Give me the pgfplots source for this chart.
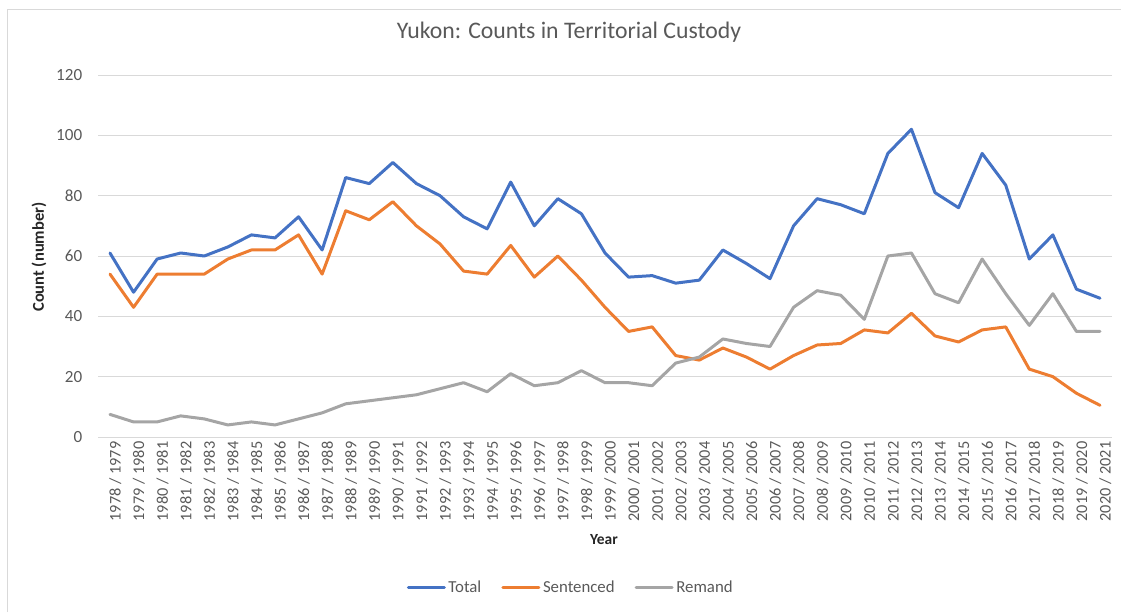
\documentclass[border=0pt]{standalone}
\usepackage{pgfplots}
\pgfplotsset{compat=1.18}
\usepackage{pgfplotstable}
\usepackage{fontspec}
\setmainfont{Carlito}
\definecolor{cTotal}{HTML}{4472C4}
\definecolor{cSent}{HTML}{ED7D31}
\definecolor{cRem}{HTML}{A5A5A5}
\definecolor{cGrid}{HTML}{D9D9D9}
\definecolor{cText}{HTML}{595959}
\definecolor{cFrame}{HTML}{D9D9D9}

\pgfplotstableread{
idx total sent remand
0 61 54 7.5
1 48 43 5
2 59 54 5
3 61 54 7
4 60 54 6
5 63 59 4
6 67 62 5
7 66 62 4
8 73 67 6
9 62 54 8
10 86 75 11
11 84 72 12
12 91 78 13
13 84 70 14
14 80 64 16
15 73 55 18
16 69 54 15
17 84.5 63.5 21
18 70 53 17
19 79 60 18
20 74 52 22
21 61 43 18
22 53 35 18
23 53.5 36.5 17
24 51 27 24.5
25 52 25.5 26.5
26 62 29.5 32.5
27 57.5 26.5 31
28 52.5 22.5 30
29 70 27 43
30 79 30.5 48.5
31 77 31 47
32 74 35.5 39
33 94 34.5 60
34 102 41 61
35 81 33.5 47.5
36 76 31.5 44.5
37 94 35.5 59
38 83.5 36.5 47.5
39 59 22.5 37
40 67 20 47.5
41 49 14.5 35
42 46 10.5 35
}\datatable

\begin{document}
\begin{tikzpicture}
\useasboundingbox (0,0) rectangle (840.75pt,459pt);
\draw[cFrame, line width=0.75pt] (5.25pt,0pt) -- (5.25pt,451.5pt) -- (840.75pt,451.5pt);
\begin{axis}[
  at={(73.65pt,131.25pt)}, anchor=south west,
  scale only axis,
  width=760.2pt, height=271.5pt,
  xmin=-0.5, xmax=42.5,
  ymin=0, ymax=120,
  ytick={0,20,...,120},
  xtick={0,1,...,42},
  xticklabels={1978 / 1979,1979 / 1980,1980 / 1981,1981 / 1982,1982 / 1983,1983 / 1984,1984 / 1985,1985 / 1986,1986 / 1987,1987 / 1988,1988 / 1989,1989 / 1990,1990 / 1991,1991 / 1992,1992 / 1993,1993 / 1994,1994 / 1995,1995 / 1996,1996 / 1997,1997 / 1998,1998 / 1999,1999 / 2000,2000 / 2001,2001 / 2002,2002 / 2003,2003 / 2004,2004 / 2005,2005 / 2006,2006 / 2007,2007 / 2008,2008 / 2009,2009 / 2010,2010 / 2011,2011 / 2012,2012 / 2013,2013 / 2014,2014 / 2015,2015 / 2016,2016 / 2017,2017 / 2018,2018 / 2019,2019 / 2020,2020 / 2021},
  axis line style={draw=none},
  axis x line*=bottom,
  major tick length=0pt,
  ymajorgrids, grid style={cGrid, line width=0.75pt},
  /pgf/number format/assume math mode=true,
  yticklabel style={font=\fontsize{12.8}{14}\selectfont, text=cText, xshift=-8.5pt},
  xticklabel style={font=\fontsize{12.2}{13}\selectfont, text=cText, rotate=90, anchor=east, yshift=-4pt},
  title={Yukon: Counts in Territorial Custody},
  title style={at={(0.4645,1.0967)}, anchor=center, font=\fontsize{17.8}{20}\selectfont, text=cText},
  xlabel={Year},
  xlabel style={at={(axis description cs:0.499,-0.2845)}, anchor=center, font=\fontsize{11.6}{13}\selectfont\bfseries, text=black!85},
  ylabel={Count (number)},
  ylabel style={at={(axis description cs:-0.0584,0.497)}, anchor=center, font=\fontsize{12.4}{14}\selectfont\bfseries, text=black!85},
  legend columns=3,
  legend style={at={(0.4665,-0.417)}, anchor=center, draw=none, fill=none,
    font=\fontsize{12.6}{14}\selectfont, text=cText,
    /tikz/every even column/.append style={column sep=13pt}},
  legend image code/.code={\draw[#1] (0pt,0pt) -- (27pt,0pt);},
  every axis plot/.append style={line width=2.25pt, line join=round, line cap=round},
]
\draw[cGrid, line width=0.75pt] (axis cs:-0.5,0) -- (axis cs:42.5,0);
\addplot[cTotal, mark=none] table[x=idx, y=total] {\datatable};
\addlegendentry{Total}
\addplot[cSent, mark=none] table[x=idx, y=sent] {\datatable};
\addlegendentry{Sentenced}
\addplot[cRem, mark=none] table[x=idx, y=remand] {\datatable};
\addlegendentry{Remand}
\end{axis}
\end{tikzpicture}
\end{document}
